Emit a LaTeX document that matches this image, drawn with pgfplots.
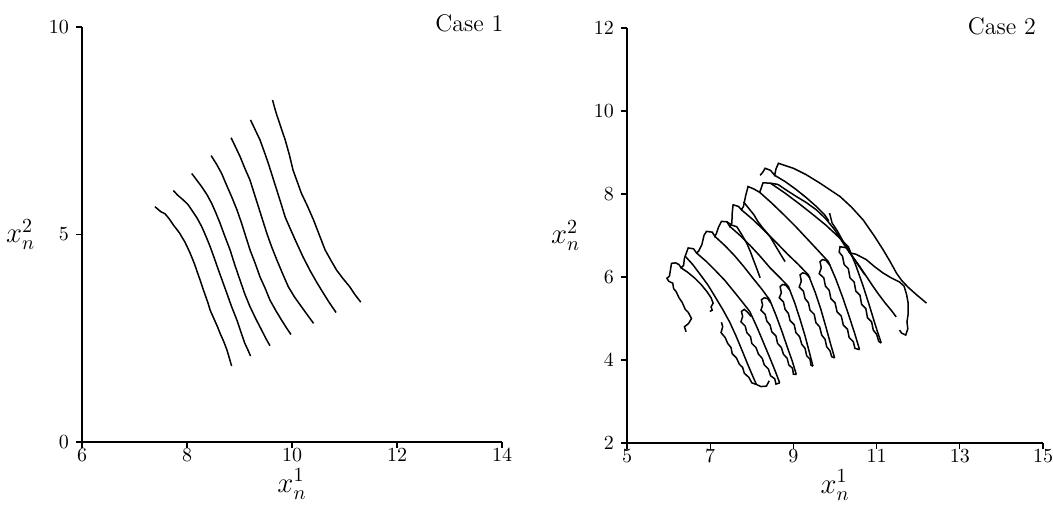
\documentclass[border=0pt]{standalone}
\usepackage{pgfplots}
\pgfplotsset{compat=1.18}
\begin{document}
\begin{tikzpicture}
\useasboundingbox (0,0) rectangle (526.5pt,254pt);
\pgfplotsset{
  myax/.style={
    scale only axis,
    axis x line*=bottom, axis y line*=left,
    tick align=outside, major tick length=3pt,
    axis line style={line width=0.9pt},
    tick style={line width=0.6pt, black},
    ticklabel style={font=\normalsize},
    xticklabel style={yshift=3pt},
    xlabel style={font=\Large, yshift=3.5pt},
    ylabel style={rotate=-90, font=\Large, xshift=0pt},
    clip=false,
    cycle list={{black, solid}},
    every axis plot post/.append style={line width=0.75pt, black, solid, no markers},
  }
}
% ---------------- Case 1 ----------------
\begin{axis}[myax, at={(41pt,33pt)}, anchor=south west,
  width=210pt, height=207.5pt,
  xmin=6, xmax=14, ymin=0, ymax=10,
  xtick={6,8,10,12,14}, ytick={0,5,10},
  xlabel={$x_n^1$}, ylabel={$x_n^2$}]
\addplot coordinates {(7.39,5.67)(7.50,5.55)(7.58,5.50)(7.66,5.38)(7.74,5.23)(7.85,5.05)(7.96,4.82)(8.06,4.55)(8.14,4.30)(8.20,4.08)(8.25,3.90)(8.33,3.60)(8.40,3.35)(8.44,3.18)(8.52,2.95)(8.58,2.78)(8.63,2.62)(8.70,2.42)(8.76,2.22)(8.80,2.05)(8.85,1.83)};
\addplot coordinates {(7.74,6.06)(7.82,5.95)(7.93,5.83)(8.02,5.72)(8.09,5.59)(8.19,5.40)(8.28,5.19)(8.36,4.96)(8.44,4.71)(8.52,4.43)(8.60,4.14)(8.68,3.86)(8.76,3.58)(8.85,3.26)(8.95,2.94)(9.03,2.64)(9.10,2.38)(9.16,2.22)(9.21,2.07)};
\addplot coordinates {(8.09,6.47)(8.18,6.32)(8.28,6.15)(8.38,5.96)(8.47,5.75)(8.55,5.52)(8.63,5.27)(8.72,4.96)(8.82,4.63)(8.91,4.27)(9.01,3.90)(9.10,3.57)(9.20,3.26)(9.31,2.97)(9.42,2.70)(9.50,2.50)(9.58,2.32)};
\addplot coordinates {(8.46,6.90)(8.56,6.70)(8.66,6.47)(8.75,6.20)(8.85,5.91)(8.95,5.60)(9.04,5.27)(9.12,4.95)(9.20,4.63)(9.30,4.30)(9.39,3.98)(9.49,3.70)(9.58,3.42)(9.69,3.17)(9.80,2.94)(9.89,2.76)(9.98,2.59)};
\addplot coordinates {(8.84,7.33)(8.92,7.12)(9.01,6.88)(9.10,6.60)(9.20,6.31)(9.28,5.99)(9.36,5.67)(9.44,5.35)(9.52,5.03)(9.61,4.71)(9.71,4.39)(9.82,4.06)(9.93,3.74)(10.05,3.49)(10.18,3.26)(10.30,3.05)(10.41,2.86)};
\addplot coordinates {(9.21,7.76)(9.30,7.52)(9.39,7.28)(9.47,7.00)(9.55,6.71)(9.63,6.39)(9.71,6.07)(9.79,5.75)(9.87,5.42)(9.98,5.10)(10.09,4.79)(10.21,4.46)(10.34,4.14)(10.47,3.85)(10.60,3.58)(10.72,3.34)(10.84,3.12)};
\addplot coordinates {(9.63,8.24)(9.67,8.05)(9.71,7.88)(9.79,7.58)(9.87,7.28)(9.95,6.92)(10.02,6.55)(10.10,6.27)(10.18,5.99)(10.30,5.67)(10.41,5.35)(10.52,4.99)(10.63,4.63)(10.74,4.38)(10.85,4.14)(10.97,3.94)(11.10,3.74)(11.20,3.55)(11.31,3.37)};
\node[anchor=east, font=\large] at (rel axis cs:1.02,1.01) {Case 1};
\end{axis}
% ---------------- Case 2 ----------------
\begin{axis}[myax, at={(313.5pt,32.5pt)}, anchor=south west,
  width=208pt, height=207.5pt,
  xmin=5, xmax=15, ymin=2, ymax=12,
  xtick={5,7,...,15}, ytick={2,4,...,12},
  xlabel={$x_n^1$}, ylabel={$x_n^2$}]
% comb on the upper left edge
\addplot coordinates {(6.42,4.68)(6.38,4.80)(6.48,4.88)(6.55,5.00)(6.47,5.15)(6.40,5.22)(6.33,5.38)(6.25,5.50)(6.18,5.65)(6.12,5.72)(6.10,5.85)(6.00,5.90)(5.96,5.97)(6.02,6.02)(6.07,6.33)(6.17,6.34)(6.25,6.30)(6.30,6.22)(6.36,6.28)(6.38,6.45)(6.47,6.70)(6.60,6.68)(6.67,6.58)(6.72,6.62)(6.80,6.78)(6.85,7.00)(6.91,7.10)(7.05,7.08)(7.11,6.98)(7.15,7.05)(7.20,7.20)(7.27,7.34)(7.40,7.33)(7.47,7.22)(7.52,7.30)(7.53,7.55)(7.55,7.74)(7.68,7.70)(7.75,7.62)(7.80,7.70)(7.85,7.95)(7.91,8.18)(8.05,8.12)(8.19,8.04)(8.27,8.27)(8.45,8.26)(8.63,8.23)};
\addplot coordinates {(6.30,6.22)(6.45,6.12)(6.62,5.98)(6.78,5.82)(6.92,5.65)(7.02,5.50)(7.07,5.37)(7.02,5.28)(7.05,5.20)(6.99,5.17)};
% smooth descending strokes
\addplot coordinates {(6.40,6.50)(6.58,6.30)(6.76,6.06)(6.95,5.80)(7.12,5.52)(7.30,5.22)(7.47,4.91)(7.62,4.58)(7.77,4.22)(7.90,3.90)(8.01,3.64)(8.11,3.41)};
\addplot coordinates {(6.67,6.58)(6.90,6.38)(7.12,6.16)(7.35,5.92)(7.57,5.65)(7.77,5.40)(7.95,5.17)(8.12,4.80)(8.28,4.42)(8.43,4.06)(8.56,3.74)(8.67,3.45)};
\addplot coordinates {(7.11,6.98)(7.35,6.76)(7.58,6.52)(7.80,6.26)(8.02,5.98)(8.23,5.72)(8.43,5.45)(8.58,5.08)(8.72,4.70)(8.85,4.32)(8.97,3.98)(9.07,3.65)};
\addplot coordinates {(7.47,7.22)(7.72,7.00)(7.96,6.76)(8.20,6.50)(8.44,6.22)(8.67,5.99)(8.88,5.77)(9.03,5.38)(9.16,4.98)(9.28,4.58)(9.38,4.20)(9.47,3.85)};
\addplot coordinates {(7.75,7.62)(8.03,7.38)(8.30,7.12)(8.58,6.84)(8.86,6.55)(9.12,6.30)(9.36,6.05)(9.52,5.64)(9.66,5.22)(9.78,4.80)(9.89,4.40)(9.99,4.05)};
\addplot coordinates {(8.19,8.04)(8.48,7.78)(8.77,7.50)(9.05,7.22)(9.33,6.92)(9.60,6.63)(9.84,6.37)(10.02,5.95)(10.18,5.52)(10.33,5.08)(10.47,4.65)(10.59,4.25)};
\addplot coordinates {(8.45,8.26)(8.80,8.02)(9.12,7.78)(9.45,7.52)(9.78,7.25)(10.07,6.98)(10.32,6.73)(10.50,6.28)(10.67,5.80)(10.83,5.30)(10.97,4.84)(11.11,4.41)};
\addplot coordinates {(8.63,8.23)(8.85,8.08)(9.07,7.94)(9.30,7.80)(9.55,7.62)(9.78,7.40)(9.99,7.14)(10.13,6.92)(10.27,6.70)(10.43,6.48)(10.59,6.26)(10.75,6.02)(10.91,5.78)(11.05,5.58)(11.20,5.38)(11.35,5.20)(11.47,5.04)};
\addplot coordinates {(8.55,8.45)(8.80,8.30)(9.05,8.12)(9.30,7.92)(9.55,7.70)(9.75,7.50)(9.85,7.35)};
% jagged returns (left sides of the loops)
\addplot coordinates {(7.27,4.91)(7.30,4.80)(7.26,4.66)(7.36,4.54)(7.42,4.40)(7.50,4.30)(7.53,4.15)(7.63,4.05)(7.70,3.90)(7.78,3.82)(7.82,3.68)(7.93,3.58)(8.00,3.45)(8.11,3.41)(8.22,3.36)(8.35,3.37)(8.42,3.50)};
\addplot coordinates {(7.98,5.05)(7.90,5.15)(7.82,5.22)(7.75,5.17)(7.78,5.05)(7.74,4.92)(7.84,4.82)(7.88,4.66)(7.97,4.56)(8.00,4.40)(8.10,4.30)(8.16,4.14)(8.25,4.04)(8.30,3.88)(8.40,3.78)(8.45,3.62)(8.55,3.55)(8.58,3.42)(8.67,3.45)};
\addplot coordinates {(8.45,5.38)(8.38,5.48)(8.30,5.50)(8.23,5.45)(8.26,5.32)(8.22,5.20)(8.32,5.10)(8.36,4.94)(8.44,4.84)(8.48,4.68)(8.58,4.58)(8.62,4.40)(8.71,4.30)(8.76,4.14)(8.85,4.04)(8.89,3.88)(8.98,3.80)(9.00,3.66)(9.07,3.65)};
\addplot coordinates {(8.90,5.70)(8.82,5.80)(8.74,5.82)(8.68,5.77)(8.71,5.62)(8.66,5.50)(8.76,5.40)(8.80,5.22)(8.88,5.12)(8.92,4.95)(9.02,4.85)(9.06,4.66)(9.15,4.56)(9.20,4.38)(9.28,4.28)(9.32,4.10)(9.40,4.02)(9.42,3.88)(9.47,3.85)};
\addplot coordinates {(9.40,5.98)(9.30,6.08)(9.22,6.10)(9.16,6.05)(9.19,5.90)(9.14,5.76)(9.24,5.66)(9.28,5.48)(9.36,5.38)(9.40,5.20)(9.50,5.10)(9.54,4.90)(9.63,4.80)(9.68,4.60)(9.76,4.50)(9.80,4.32)(9.88,4.22)(9.92,4.08)(9.99,4.05)};
\addplot coordinates {(9.88,6.28)(9.78,6.40)(9.70,6.42)(9.64,6.37)(9.67,6.22)(9.62,6.08)(9.73,5.98)(9.77,5.78)(9.86,5.68)(9.90,5.48)(10.00,5.38)(10.05,5.16)(10.15,5.06)(10.20,4.84)(10.30,4.74)(10.34,4.54)(10.44,4.44)(10.48,4.28)(10.59,4.25)};
\addplot coordinates {(11.11,4.41)(11.05,4.45)(11.00,4.62)(10.92,4.72)(10.88,4.92)(10.78,5.02)(10.74,5.24)(10.64,5.34)(10.60,5.56)(10.50,5.66)(10.46,5.88)(10.36,5.98)(10.32,6.20)(10.22,6.30)(10.18,6.50)(10.10,6.60)(10.12,6.73)(10.30,6.70)(10.35,6.58)(10.50,6.55)(10.75,6.42)(10.95,6.25)(11.15,6.10)(11.35,5.98)(11.55,5.88)(11.66,5.78)(11.72,5.58)(11.76,5.36)(11.76,5.12)(11.73,4.92)(11.75,4.75)(11.70,4.60)(11.60,4.65)(11.55,4.72)};
% outer arc
\addplot coordinates {(8.20,8.45)(8.26,8.52)(8.32,8.62)(8.45,8.57)(8.55,8.45)(8.58,8.60)(8.64,8.74)(9.00,8.62)(9.30,8.47)(9.64,8.26)(10.12,7.94)(10.40,7.68)(10.68,7.37)(10.95,6.98)(11.16,6.65)(11.32,6.38)(11.48,6.09)(11.60,5.92)(11.75,5.76)(11.95,5.58)(12.20,5.37)};
\addplot coordinates {(9.87,7.54)(9.93,7.30)(10.05,7.12)(10.20,6.85)(10.38,6.55)(10.55,6.30)(10.72,6.05)};
% short strokes from the edge
\addplot coordinates {(7.40,7.33)(7.52,7.25)(7.64,7.21)(7.76,7.02)(7.88,6.81)(7.97,6.60)(8.04,6.41)(8.12,6.20)(8.20,5.98)};
\addplot coordinates {(7.80,7.81)(7.93,7.65)(8.05,7.50)(8.15,7.33)(8.25,7.20)(8.44,6.97)(8.60,6.70)(8.72,6.50)(8.80,6.37)};
\node[anchor=east, font=\large] at (rel axis cs:1,1.005) {Case 2};
\end{axis}
\end{tikzpicture}
\end{document}
